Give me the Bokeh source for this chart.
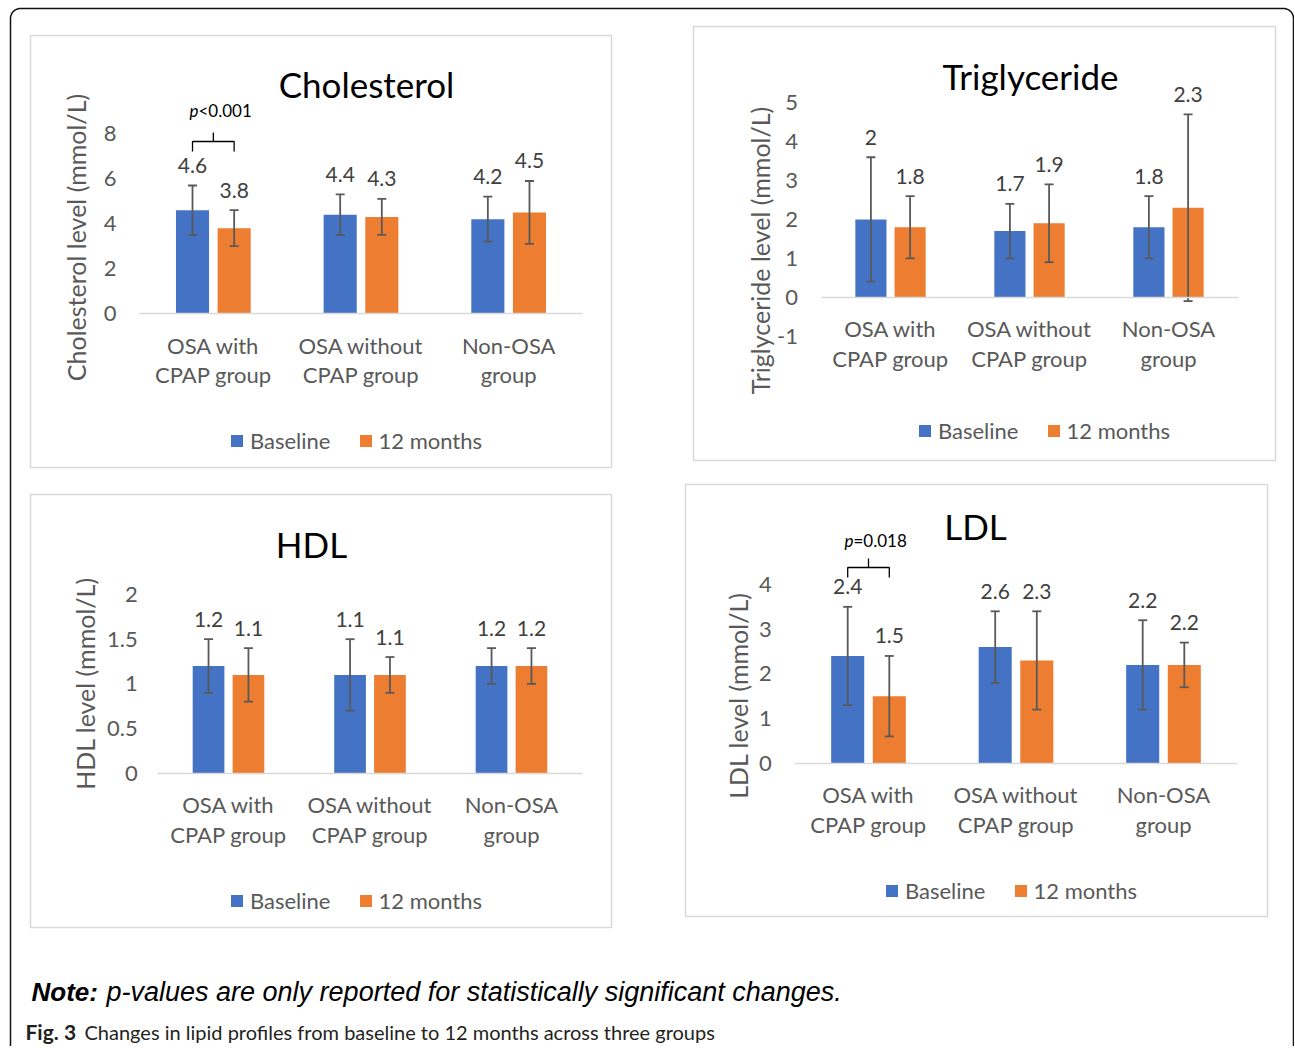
import math
from bokeh.plotting import figure
from bokeh.models import (ColumnDataSource, Range1d, FixedTicker, LinearAxis,
                          NumeralTickFormatter, CustomJSTickFormatter, Label,
                          Legend, LegendItem)
from bokeh.transform import dodge
from bokeh.core.properties import value
from bokeh.embed import file_html
from bokeh.resources import INLINE

# ---------------- data ----------------
groups = ["OSA with\nCPAP group", "OSA without\nCPAP group", "Non-OSA\ngroup"]
series_names = ["Baseline", "12 months"]

chol_base = [4.6, 4.4, 4.2]
chol_base_err = [1.1, 0.9, 1.0]
chol_12m = [3.8, 4.3, 4.5]
chol_12m_err = [0.8, 0.8, 1.4]

tg_base = [2.0, 1.7, 1.8]
tg_base_err = [1.6, 0.7, 0.8]
tg_12m = [1.8, 1.9, 2.3]
tg_12m_err = [0.8, 1.0, 2.4]

hdl_base = [1.2, 1.1, 1.2]
hdl_base_err = [0.3, 0.4, 0.2]
hdl_12m = [1.1, 1.1, 1.2]
hdl_12m_err = [0.3, 0.2, 0.2]

ldl_base = [2.4, 2.6, 2.2]
ldl_base_err = [1.1, 0.8, 1.0]
ldl_12m = [1.5, 2.3, 2.2]
ldl_12m_err = [0.9, 1.1, 0.5]

chol_ticks = [0, 2, 4, 6, 8]
tg_ticks = [-1, 0, 1, 2, 3, 4, 5]
hdl_ticks = [0, 0.5, 1, 1.5, 2]
ldl_ticks = [0, 1, 2, 3, 4]

# ---------------- style ----------------
BLUE = "#4472C4"
ORANGE = "#ED7D31"
ERR = "#595959"
AX_TXT = "#595959"
LAB_TXT = "#404040"
FONT = "Lato"
OFF = 0.141
BW = 0.224

W, H = 1294, 1046
p = figure(width=W, height=H, x_range=Range1d(0, W), y_range=Range1d(H, 0),
           output_backend="svg", toolbar_location=None,
           x_axis_location=None, y_axis_location=None, min_border=0)
p.outline_line_color = None
p.xgrid.visible = False
p.ygrid.visible = False

# outer rounded frame of the figure
ox0, ox1, oy0, oy1, rad = 10, 1293, 8, 1070, 10
bx, by = [ox0, ox0], [oy1, oy0 + rad]
for i in range(1, 16):
    a = math.pi + (math.pi / 2) * i / 15
    bx.append(ox0 + rad + rad * math.cos(a)); by.append(oy0 + rad + rad * math.sin(a))
bx.append(ox1 - rad); by.append(oy0)
for i in range(1, 16):
    a = 1.5 * math.pi + (math.pi / 2) * i / 15
    bx.append(ox1 - rad + rad * math.cos(a)); by.append(oy0 + rad + rad * math.sin(a))
bx.append(ox1); by.append(oy1)
p.line(x=bx, y=by, line_color="#111111", line_width=1.5)


def panel(k, cfg, base, base_err, m12, m12_err, yticks):
    x0, y0, w, h = cfg["box"]
    fl, fr = cfg["frame_lr"]
    zero, ppu = cfg["zero"], cfg["ppu"]
    cat_px = (fr - fl) / len(groups)
    p.extra_x_ranges[k] = Range1d((0 - fl) / cat_px, (W - fl) / cat_px)
    p.extra_y_ranges[k] = Range1d((zero - H) / ppu, zero / ppu)
    kw = dict(x_range_name=k, y_range_name=k)

    def dy(py):
        return (zero - py) / ppu

    # panel box
    p.quad(left=[x0], right=[x0 + w], top=[y0], bottom=[y0 + h],
           fill_color="white", line_color="#d9d9d9", line_width=1.5)

    renderers = []
    for vals, errs, off, color in ((base, base_err, -OFF, BLUE), (m12, m12_err, OFF, ORANGE)):
        src = ColumnDataSource(dict(
            xc=[i + 0.5 for i in range(len(groups))], v=vals,
            hi=[v + e for v, e in zip(vals, errs)],
            lo=[v - e for v, e in zip(vals, errs)],
            lab=[f"{v:g}" for v in vals]))
        xd = dodge("xc", off)
        r = p.vbar(x=xd, top="v", bottom=0, width=BW, source=src, fill_color=color,
                   line_color=None, **kw)
        renderers.append(r)
        p.segment(x0=xd, y0="lo", x1=xd, y1="hi", source=src,
                  line_color=ERR, line_width=1.8, **kw)
        p.scatter(x=xd, y="hi", marker="dash", size=9, source=src,
                  line_color=ERR, line_width=1.8, **kw)
        p.scatter(x=xd, y="lo", marker="dash", size=9, source=src,
                  line_color=ERR, line_width=1.8, **kw)
        p.text(x=xd, y="hi", text="lab", source=src, y_offset=-20,
               text_align="center", text_baseline="middle",
               text_font=value(FONT), text_font_size="21px", text_color=LAB_TXT, **kw)

    # axes at fixed positions inside the panel
    yax = LinearAxis(fixed_location=0, ticker=FixedTicker(ticks=yticks),
                     formatter=NumeralTickFormatter(format="0.[0]"), **kw)
    yax.axis_line_color = None
    yax.major_tick_line_color = None
    yax.minor_tick_line_color = None
    yax.major_tick_out = 0
    yax.major_label_standoff = cfg["ystand"]
    yax.major_label_text_font = FONT
    yax.major_label_text_font_size = "22px"
    yax.major_label_text_color = AX_TXT
    p.add_layout(yax, "left")

    xax = LinearAxis(fixed_location=0,
                     ticker=FixedTicker(ticks=[i + 0.5 for i in range(len(groups))]),
                     formatter=CustomJSTickFormatter(args=dict(labels=groups),
                                                     code="return labels[Math.round(tick - 0.5)];"),
                     bounds=(0, len(groups)), **kw)
    xax.axis_line_color = "#d9d9d9"
    xax.axis_line_width = 1.5
    xax.major_tick_line_color = None
    xax.minor_tick_line_color = None
    xax.major_tick_out = 0
    xax.major_label_standoff = 18
    xax.major_label_orientation = "horizontal"
    xax.major_label_text_font = FONT
    xax.major_label_text_font_size = "22px"
    xax.major_label_text_color = AX_TXT
    xax.major_label_text_line_height = 1.1
    p.add_layout(xax, "below")

    # chart title
    t, tx, ty = cfg["title"]
    p.add_layout(Label(x=tx, y=ty, text=t, text_align="center",
                       text_baseline="middle", text_font=FONT,
                       text_font_size="35px", text_color="black"))
    # y-axis title
    yt, yx, yy = cfg["ytitle"]
    p.add_layout(Label(x=yx, y=yy, text=yt, angle=math.pi / 2,
                       text_align="center", text_baseline="middle",
                       text_font=FONT, text_font_size="25px", text_color=AX_TXT))

    # significance brace
    if cfg.get("pval"):
        pt, rest, split_px, py, brace_py, gi = cfg["pval"]
        p.add_layout(Label(x=split_px, y=py, text=pt, text_align="right",
                           text_baseline="middle", text_font=FONT,
                           text_font_style="italic", text_font_size="17px",
                           text_color="black"))
        p.add_layout(Label(x=split_px, y=py, text=rest, text_align="left",
                           text_baseline="middle", text_font=FONT,
                           text_font_size="17px", text_color="black"))
        xl, xr = gi + 0.5 - OFF, gi + 0.5 + OFF
        xm = (xl + xr) / 2
        yh = dy(brace_py)
        d = 10 / ppu
        s = 9 / ppu
        p.line(x=[xl, xl, xm, xm, xm, xr, xr],
               y=[yh - d, yh, yh, yh + s, yh, yh, yh - d],
               line_color="black", line_width=1.3, **kw)

    # legend
    lleft, lcy = cfg["legend"]
    lh = 24
    legend = Legend(items=[LegendItem(label=series_names[0], renderers=[renderers[0]]),
                           LegendItem(label=series_names[1], renderers=[renderers[1]])],
                    orientation="horizontal",
                    location=(lleft, H - lcy - lh / 2),
                    border_line_color=None, background_fill_alpha=0,
                    padding=0, margin=0, spacing=27, label_standoff=6,
                    glyph_width=15, glyph_height=15, label_height=lh,
                    label_text_font=FONT, label_text_font_size="22px",
                    label_text_color=AX_TXT)
    p.add_layout(legend)


chol_cfg = dict(box=(30, 35, 581, 432), frame_lr=(139, 582), zero=313, ppu=22.46,
                title=("Cholesterol", 366, 83),
                ytitle=("Cholesterol level (mmol/L)", 75, 237),
                legend=(229, 442), ystand=23,
                pval=("p", "<0.001", 198, 110, 141, 0))
tg_cfg = dict(box=(693, 26, 582, 434), frame_lr=(820.5, 1237.5), zero=296.7, ppu=38.88,
              title=("Triglyceride", 1030, 75),
              ytitle=("Triglyceride level (mmol/L)", 759, 250),
              legend=(917, 432), ystand=23)
hdl_cfg = dict(box=(30, 494, 581, 433), frame_lr=(157.25, 581.75), zero=772.7, ppu=89.35,
               title=("HDL", 311, 543), ytitle=("HDL level (mmol/L)", 84, 683),
               legend=(229, 902), ystand=20)
ldl_cfg = dict(box=(685, 484, 582, 432), frame_lr=(794.25, 1236.75), zero=762.7, ppu=44.675,
               title=("LDL", 975, 525), ytitle=("LDL level (mmol/L)", 737, 695),
               legend=(884, 892), ystand=23,
               pval=("p", "=0.018", 853, 540, 567, 0))

panel("chol", chol_cfg, chol_base, chol_base_err, chol_12m, chol_12m_err, chol_ticks)
panel("tg", tg_cfg, tg_base, tg_base_err, tg_12m, tg_12m_err, tg_ticks)
panel("hdl", hdl_cfg, hdl_base, hdl_base_err, hdl_12m, hdl_12m_err, hdl_ticks)
panel("ldl", ldl_cfg, ldl_base, ldl_base_err, ldl_12m, ldl_12m_err, ldl_ticks)

# ---------------- note / caption ----------------
p.text(x=[31], y=[991], text=["Note:"], text_align="left",
       text_baseline="middle", text_font=value("Liberation Sans"),
       text_font_style="bold italic", text_font_size="26px", text_color="black")
p.text(x=[106], y=[991],
       text=["p-values are only reported for statistically significant changes."],
       text_align="left", text_baseline="middle",
       text_font=value("Liberation Sans"), text_font_style="italic",
       text_font_size="27px", text_color="black")
p.text(x=[25], y=[1031], text=["Fig. 3"], text_align="left",
       text_baseline="middle", text_font=value(FONT), text_font_style="bold",
       text_font_size="21px", text_color="#231f20")
p.text(x=[84], y=[1031],
       text=["Changes in lipid profiles from baseline to 12 months across three groups"],
       text_align="left", text_baseline="middle", text_font=value(FONT),
       text_font_size="20px", text_color="#231f20")

open("out.html", "w").write(file_html(p, INLINE))
